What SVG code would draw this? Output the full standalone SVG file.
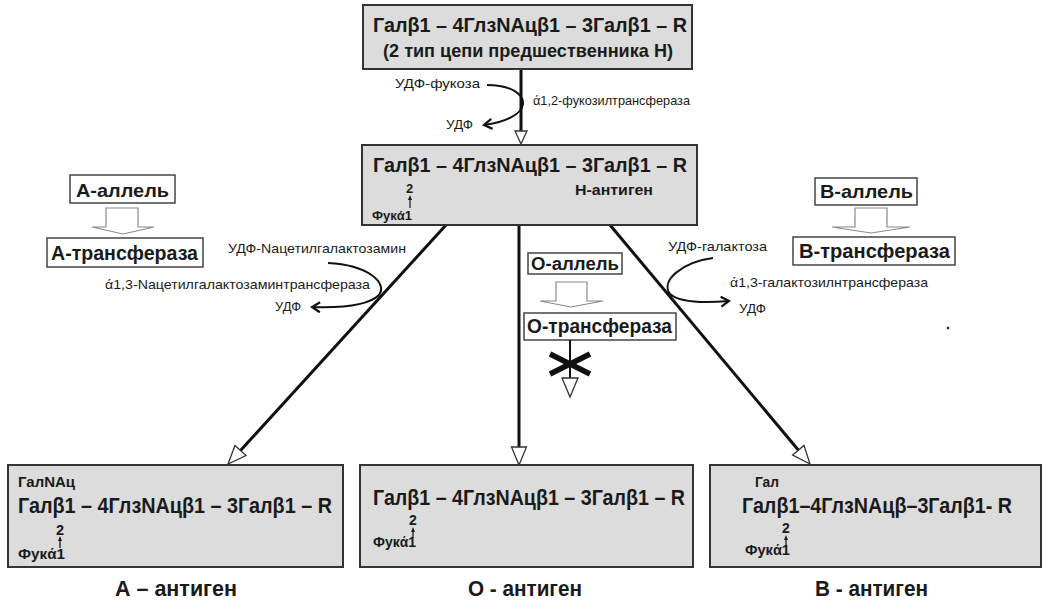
<svg xmlns="http://www.w3.org/2000/svg" width="1044" height="602" viewBox="0 0 1044 602">
<style>
.box{fill:#dcdcdc;stroke:#333;stroke-width:2}
.wbox{fill:#fff;stroke:#444;stroke-width:1.5}
.f{font-family:"Liberation Sans",Arial,sans-serif;fill:#1a1a1a}
.b{font-weight:bold}
.big{font-size:20.5px;font-weight:bold}
.big2{font-size:21.5px;font-weight:bold}
.sm{font-size:13px}
.lbl{font-size:13px;font-weight:bold}
.conn{stroke:#111;stroke-width:3;fill:none}
.curve{stroke:#111;stroke-width:2;fill:none}
.block{fill:#fff;stroke:#8a8a8a;stroke-width:1.2}
.ar{fill:#fff;stroke:#333;stroke-width:1.3}
</style>
<defs>
<marker id="open" markerUnits="userSpaceOnUse" markerWidth="16" markerHeight="16" refX="0" refY="0" orient="auto" overflow="visible">
<path d="M-8,-5 L0,0 L-8,5" fill="none" stroke="#111" stroke-width="2.2"/>
</marker>
</defs>

<g id="connectors">
<line class="conn" x1="521" y1="69" x2="521" y2="131"/>
<polygon class="ar" points="515,131 527,131 521,144"/>
<line class="conn" x1="446" y1="225" x2="240.5" y2="450.5"/>
<polygon class="ar" points="235,445.4 246,455.5 228,464"/>
<line class="conn" x1="519" y1="225" x2="519" y2="447"/>
<polygon class="ar" points="511.5,447 526.5,447 519,465"/>
<line class="conn" x1="610" y1="225" x2="798.5" y2="450.2"/>
<polygon class="ar" points="792.7,455 804,445.4 810,464"/>
<path class="curve" d="M487,85 C512,85 524,95 523,104 C522,114 506,122 484,125" marker-end="url(#open)"/>
<path class="curve" d="M328,263 C368,265 388,283 379,295 C368,306 342,308 312,307" marker-end="url(#open)"/>
<path class="curve" d="M713,258 C682,262 660,281 670,294 C680,303 705,303 729,301" marker-end="url(#open)"/>
</g>

<g id="node-top">
<rect class="box" x="363" y="5" width="329" height="64"/>
<text class="f big" x="373" y="32" textLength="314" lengthAdjust="spacingAndGlyphs">Галβ1 – 4ГлзNAцβ1 – 3Галβ1 – R</text>
<text class="f b" x="383" y="57" font-size="18.5" textLength="290" lengthAdjust="spacingAndGlyphs">(2 тип цепи предшественника Н)</text>
</g>

<g id="label-fucose">
<text class="f sm" x="395" y="88" textLength="85" lengthAdjust="spacingAndGlyphs">УДФ-фукоза</text>
<text class="f sm" x="533" y="105" textLength="157" lengthAdjust="spacingAndGlyphs">ά1,2-фукозилтрансфераза</text>
<text class="f sm" x="446" y="129" textLength="27" lengthAdjust="spacingAndGlyphs">УДФ</text>
</g>

<g id="node-H">
<rect class="box" x="362" y="145" width="335" height="80"/>
<text class="f big" x="373" y="172" textLength="314" lengthAdjust="spacingAndGlyphs">Галβ1 – 4ГлзNAцβ1 – 3Галβ1 – R</text>
<text class="f lbl" x="406" y="193">2</text>
<line x1="410" y1="208" x2="410" y2="199" stroke="#1a1a1a" stroke-width="1.2"/>
<path d="M408,200 L412,200 L410,195 Z" fill="#1a1a1a"/>
<text class="f lbl" x="372" y="220" textLength="40" lengthAdjust="spacingAndGlyphs">Фукά1</text>
<text class="f b" x="575" y="195" font-size="15.5" textLength="78" lengthAdjust="spacingAndGlyphs">Н-антиген</text>
</g>

<g id="node-A-allele">
<rect class="wbox" x="70" y="175" width="105" height="28"/>
<text class="f b" x="76" y="197" font-size="18.5" textLength="93" lengthAdjust="spacingAndGlyphs">А-аллель</text>
<polygon class="block" points="106,208 138,208 138,227 154,227 123,234 92,227 106,227"/>
</g>
<g id="node-A-transferase">
<rect class="wbox" x="47" y="238" width="156" height="29"/>
<text class="f b" x="51" y="260" font-size="19.5" textLength="147" lengthAdjust="spacingAndGlyphs">А-трансфераза</text>
</g>
<g id="label-A">
<text class="f sm" x="228" y="253" textLength="178" lengthAdjust="spacingAndGlyphs">УДФ-Nацетилгалактозамин</text>
<text class="f sm" x="105" y="289" textLength="265" lengthAdjust="spacingAndGlyphs">ά1,3-Nацетилгалактозаминтрансфераза</text>
<text class="f sm" x="275" y="311" textLength="26" lengthAdjust="spacingAndGlyphs">УДФ</text>
</g>

<g id="node-O-allele">
<rect class="wbox" x="528" y="253" width="94" height="21"/>
<text class="f b" x="531" y="270" font-size="17.5" textLength="88" lengthAdjust="spacingAndGlyphs">О-аллель</text>
<polygon class="block" points="556,282 587,282 587,301 603,301 571,307 540,301 556,301"/>
</g>
<g id="node-O-transferase">
<rect class="wbox" x="524" y="313" width="152" height="27"/>
<text class="f b" x="527" y="333" font-size="19.5" textLength="145" lengthAdjust="spacingAndGlyphs">О-трансфераза</text>
<line x1="570" y1="340" x2="570" y2="378" stroke="#111" stroke-width="2"/>
<line x1="550" y1="354" x2="590" y2="374" stroke="#111" stroke-width="5.5"/>
<line x1="550" y1="374" x2="590" y2="354" stroke="#111" stroke-width="5.5"/>
<polygon class="ar" points="562,378 578,378 570,397"/>
</g>

<g id="node-B-allele">
<rect class="wbox" x="815" y="178" width="102" height="27"/>
<text class="f b" x="820" y="198" font-size="18.5" textLength="93" lengthAdjust="spacingAndGlyphs">В-аллель</text>
<polygon class="block" points="855,208 887,208 887,227 910,227 871,233 832,227 855,227"/>
</g>
<g id="node-B-transferase">
<rect class="wbox" x="793" y="237" width="162" height="28"/>
<text class="f b" x="799" y="258" font-size="19.5" textLength="151" lengthAdjust="spacingAndGlyphs">В-трансфераза</text>
</g>
<g id="label-B">
<text class="f sm" x="668" y="251" textLength="99" lengthAdjust="spacingAndGlyphs">УДФ-галактоза</text>
<text class="f sm" x="730" y="287" textLength="198" lengthAdjust="spacingAndGlyphs">ά1,3-галактозилнтрансфераза</text>
<text class="f sm" x="739" y="313" textLength="27" lengthAdjust="spacingAndGlyphs">УДФ</text>
<circle cx="948" cy="328" r="1.3" fill="#222"/>
</g>

<g id="node-A-antigen">
<rect class="box" x="8" y="465" width="335" height="102"/>
<text class="f b" x="18" y="487" font-size="14.5" textLength="57" lengthAdjust="spacingAndGlyphs">ГалNAц</text>
<text class="f big2" x="18" y="513" textLength="314" lengthAdjust="spacingAndGlyphs">Галβ1 – 4ГлзNAцβ1 – 3Галβ1 – R</text>
<text class="f b" x="56" y="535" font-size="14.5">2</text>
<line x1="60" y1="548" x2="60" y2="540" stroke="#1a1a1a" stroke-width="1.3"/>
<path d="M58,541 L62,541 L60,536 Z" fill="#1a1a1a"/>
<text class="f b" x="18" y="559" font-size="14.5" textLength="47" lengthAdjust="spacingAndGlyphs">Фукά1</text>
<text class="f b" x="115" y="596" font-size="21.5" textLength="122" lengthAdjust="spacingAndGlyphs">А – антиген</text>
</g>

<g id="node-O-antigen">
<rect class="box" x="360" y="465" width="333" height="102"/>
<text class="f big2" x="373" y="505" textLength="312" lengthAdjust="spacingAndGlyphs">Галβ1 – 4ГлзNAцβ1 – 3Галβ1 – R</text>
<text class="f b" x="409" y="525" font-size="14">2</text>
<line x1="413" y1="538" x2="413" y2="531" stroke="#1a1a1a" stroke-width="1.3"/>
<path d="M411,532 L415,532 L413,527 Z" fill="#1a1a1a"/>
<text class="f b" x="373" y="547" font-size="14" textLength="43" lengthAdjust="spacingAndGlyphs">Фукά1</text>
<text class="f b" x="468" y="596" font-size="21.5" textLength="114" lengthAdjust="spacingAndGlyphs">О - антиген</text>
</g>

<g id="node-B-antigen">
<rect class="box" x="710" y="465" width="331" height="102"/>
<text class="f b" x="755" y="487" font-size="14" textLength="24" lengthAdjust="spacingAndGlyphs">Гал</text>
<text class="f big2" x="742" y="513" textLength="270" lengthAdjust="spacingAndGlyphs">Галβ1–4ГлзNAцβ–3Галβ1- R</text>
<text class="f b" x="782" y="533" font-size="14">2</text>
<line x1="786" y1="546" x2="786" y2="539" stroke="#1a1a1a" stroke-width="1.3"/>
<path d="M784,540 L788,540 L786,535 Z" fill="#1a1a1a"/>
<text class="f b" x="745" y="555" font-size="14" textLength="45" lengthAdjust="spacingAndGlyphs">Фукά1</text>
<text class="f b" x="815" y="596" font-size="21.5" textLength="113" lengthAdjust="spacingAndGlyphs">В - антиген</text>
</g>
</svg>
